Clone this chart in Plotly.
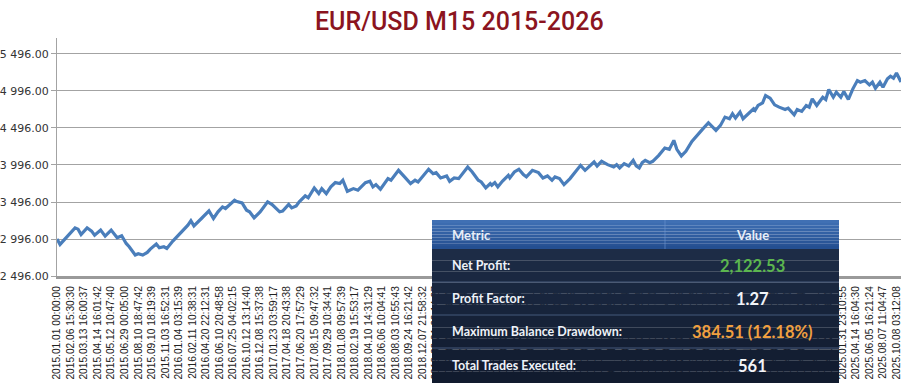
import plotly.graph_objects as go

# ---- data ----
trade_idx = [0, 2, 12, 14, 16, 20, 23, 25, 29, 32, 36, 40, 43, 46, 48, 52, 54, 57, 60, 62,
             66, 68, 71, 73, 77, 83, 87, 89, 91, 96, 101, 104, 107, 110, 112, 118, 119, 123,
             126, 128, 131, 135, 140, 143, 146, 148, 150, 154, 156, 159, 161, 165, 167, 171,
             174, 176, 179, 182, 185, 188, 190, 193, 197, 200, 205, 208, 210, 212, 215, 220,
             222, 227, 231, 235, 238, 240, 247, 250, 252, 255, 259, 261, 264, 267, 273, 276,
             280, 282, 285, 288, 289, 291, 293, 296, 300, 301, 304, 307, 310, 312, 316, 320,
             323, 326, 329, 331, 334, 337, 341, 345, 348, 351, 354, 357, 359, 362, 366, 370,
             372, 374, 377, 380, 383, 385, 387, 389, 391, 394, 396, 400, 404, 407, 410, 412,
             415, 418, 422, 427, 429, 433, 435, 438, 441, 444, 447, 449, 451, 454, 456, 459,
             463, 464, 466, 469, 471, 474, 477, 480, 484, 486, 488, 490, 492, 495, 498, 500,
             502, 505, 509, 511, 513, 516, 518, 521, 523, 526, 529, 532, 534, 537, 540, 542,
             544, 547, 549, 552, 554, 556, 558, 561]
balance = [2996, 2923, 3147, 3129, 3057, 3147, 3102, 3048, 3116, 3035, 3116, 3012, 3040, 2936,
           2891, 2779, 2797, 2779, 2815, 2860, 2927, 2878, 2891, 2869, 2968, 3093, 3183, 3242,
           3174, 3273, 3376, 3273, 3363, 3430, 3408, 3520, 3507, 3484, 3385, 3363, 3282, 3363,
           3498, 3462, 3408, 3363, 3372, 3462, 3417, 3444, 3498, 3579, 3552, 3686, 3610, 3677,
           3610, 3700, 3758, 3745, 3790, 3641, 3677, 3655, 3758, 3776, 3700, 3731, 3668, 3812,
           3790, 3924, 3835, 3745, 3790, 3767, 3938, 3879, 3893, 3821, 3848, 3776, 3821, 3812,
           3969, 3902, 3790, 3767, 3686, 3745, 3722, 3758, 3700, 3776, 3857, 3821, 3902, 3938,
           3866, 3835, 3924, 3893, 3821, 3848, 3790, 3835, 3812, 3731, 3812, 3911, 3991, 3924,
           3983, 4037, 3983, 4046, 4001, 3969, 4001, 3956, 4014, 3983, 4059, 3983, 3956, 4028,
           4059, 4028, 4046, 4127, 4225, 4207, 4329, 4207, 4118, 4180, 4315, 4441, 4477, 4567,
           4522, 4464, 4531, 4643, 4621, 4688, 4630, 4710, 4621, 4675, 4755, 4733, 4800, 4836,
           4935, 4899, 4809, 4778, 4746, 4764, 4720, 4675, 4746, 4720, 4800, 4778, 4890, 4800,
           4912, 4881, 5016, 4912, 4980, 4912, 4989, 4881, 5025, 5137, 5115, 5137, 5079, 5115,
           5034, 5115, 5047, 5160, 5196, 5169, 5240, 5118.53]

tick_trades = list(range(0, 559, 9))
tick_labels = [
    "2015.01.01 00:00:00", "2015.02.06 15:30:30", "2015.03.13 16:00:37", "2015.04.14 16:01:42",
    "2015.05.12 10:47:40", "2015.06.29 00:05:00", "2015.08.10 18:47:42", "2015.09.10 18:19:39",
    "2015.11.03 16:52:31", "2016.01.04 03:15:39", "2016.02.11 10:38:31", "2016.04.20 22:12:31",
    "2016.06.10 20:48:58", "2016.07.25 04:02:15", "2016.10.12 13:14:40", "2016.12.08 15:37:38",
    "2017.01.23 03:59:17", "2017.04.18 20:43:38", "2017.06.20 17:57:29", "2017.08.15 09:47:32",
    "2017.09.29 10:34:41", "2018.01.08 09:57:39", "2018.02.19 15:53:17", "2018.04.10 14:31:29",
    "2018.06.06 10:04:41", "2018.08.03 10:55:43", "2018.09.24 16:21:42", "2018.12.07 21:58:32",
    "2019.02.21 09:14:27", "2019.05.08 14:36:05", "2019.07.23 11:02:48", "2019.10.04 16:45:19",
    "2019.12.18 08:27:33", "2020.03.09 13:51:06", "2020.05.20 10:18:44", "2020.08.04 15:33:12",
    "2020.10.16 07:59:21", "2021.01.05 12:40:37", "2021.03.24 17:06:54", "2021.06.08 09:22:15",
    "2021.08.19 14:48:03", "2021.11.02 11:35:29", "2022.01.14 16:12:46", "2022.03.30 08:55:38",
    "2022.06.13 13:27:02", "2022.08.25 10:44:17", "2022.11.07 15:09:51", "2023.01.20 09:31:24",
    "2023.04.05 14:17:39", "2023.06.19 11:53:08", "2023.08.31 16:26:45", "2023.11.13 08:38:12",
    "2024.01.26 13:04:57", "2024.04.10 10:21:33", "2024.06.24 15:47:09", "2024.09.05 09:12:41",
    "2024.10.30 14:29:16", "2024.12.27 12:16:04", "2025.01.31 23:10:55", "2025.04.14 16:04:30",
    "2025.06.05 16:21:24", "2025.08.07 11:04:47", "2025.10.08 03:12:08",
]

y_ticks = [2496, 2996, 3496, 3996, 4496, 4996, 5496]

metrics = ["Net Profit:", "Profit Factor:", "Maximum Balance Drawdown:", "Total Trades Executed:"]
metric_values = ["2,122.53", "1.27", "384.51 (12.18%)", "561"]
value_colors = ["#5cb64f", "#f2f4f8", "#f0a040", "#f2f4f8"]

# ---- figure ----
W, H = 906, 386
L, R, T, B = 57, 5, 38, 110
pw, ph = W - L - R, H - T - B

def px_x(x):
    return (x - L) / pw

def px_y(y):
    return (H - B - y) / ph

fig = go.Figure()
fig.add_trace(go.Scatter(x=trade_idx, y=balance, mode="lines",
                         line=dict(color="#4a7ebb", width=3.2), hoverinfo="skip"))

shapes = []
annotations = []

# table geometry (pixels)
tx0, tx1, tdiv = 432, 839, 665
header_top, header_bot = 220, 249
row_edges = [249, 282, 315, 348, 383]

# header gradient
hsteps = 10
c_top = (64, 112, 180)
c_bot = (36, 79, 145)
for k in range(hsteps):
    y0 = header_top + (header_bot - header_top) * k / hsteps
    y1 = header_top + (header_bot - header_top) * (k + 1) / hsteps
    f = k / (hsteps - 1)
    c = tuple(int(c_top[j] + (c_bot[j] - c_top[j]) * f) for j in range(3))
    shapes.append(dict(type="rect", xref="paper", yref="paper", layer="above",
                       x0=px_x(tx0), x1=px_x(tx1), y0=px_y(y1), y1=px_y(y0),
                       fillcolor="rgb(%d,%d,%d)" % c, line=dict(width=0)))
# body gradient
bsteps = 12
b_top = (29, 44, 70)
b_bot = (17, 27, 46)
for k in range(bsteps):
    y0 = header_bot + (row_edges[-1] - header_bot) * k / bsteps
    y1 = header_bot + (row_edges[-1] - header_bot) * (k + 1) / bsteps
    f = k / (bsteps - 1)
    c = tuple(int(b_top[j] + (b_bot[j] - b_top[j]) * f) for j in range(3))
    shapes.append(dict(type="rect", xref="paper", yref="paper", layer="above",
                       x0=px_x(tx0), x1=px_x(tx1), y0=px_y(y1), y1=px_y(y0),
                       fillcolor="rgb(%d,%d,%d)" % c, line=dict(width=0)))
# header column divider
shapes.append(dict(type="line", xref="paper", yref="paper", layer="above",
                   x0=px_x(tdiv), x1=px_x(tdiv), y0=px_y(header_bot), y1=px_y(header_top),
                   line=dict(color="rgba(110,150,210,0.6)", width=1)))
# row separators
for ye in row_edges[1:-1]:
    shapes.append(dict(type="line", xref="paper", yref="paper", layer="above",
                       x0=px_x(tx0), x1=px_x(tx1), y0=px_y(ye), y1=px_y(ye),
                       line=dict(color="#45587a", width=1)))

# header texts
hy = (header_top + header_bot) / 2
annotations.append(dict(x=px_x(450), y=px_y(hy), xref="paper", yref="paper", text="<b>Metric</b>",
                        showarrow=False, xanchor="left", yanchor="middle",
                        font=dict(family="Lato", size=13, color="#e8eef8")))
annotations.append(dict(x=px_x((tdiv + tx1) / 2), y=px_y(hy), xref="paper", yref="paper",
                        text="<b>Value</b>", showarrow=False, xanchor="center", yanchor="middle",
                        font=dict(family="Lato", size=13, color="#e8eef8")))
for r, (m, v, vc) in enumerate(zip(metrics, metric_values, value_colors)):
    cy = (row_edges[r] + row_edges[r + 1]) / 2
    annotations.append(dict(x=px_x(450), y=px_y(cy), xref="paper", yref="paper",
                            text="<b>%s</b>" % m, showarrow=False, xanchor="left", yanchor="middle",
                            font=dict(family="Lato", size=12.5, color="#eef2f8")))
    annotations.append(dict(x=px_x((tdiv + tx1) / 2), y=px_y(cy), xref="paper", yref="paper",
                            text="<b>%s</b>" % v, showarrow=False, xanchor="center", yanchor="middle",
                            font=dict(family="Lato", size=16.5, color=vc)))

fig.update_layout(
    width=W, height=H,
    margin=dict(l=L, r=R, t=T, b=B, autoexpand=False),
    paper_bgcolor="white", plot_bgcolor="white",
    separators=". ",
    showlegend=False,
    title=dict(text="EUR/USD M15 2015-2026", x=0.507, xref="container", xanchor="center",
               y=0.945, yref="container", yanchor="middle",
               font=dict(family="Roboto", size=25, weight=500, color="#8b1420")),
    shapes=shapes,
    annotations=annotations,
)
fig.update_xaxes(
    range=[0, 561], tickmode="array", tickvals=tick_trades, ticktext=tick_labels,
    tickangle=-90, tickfont=dict(family="Liberation Sans", size=10.2, color="#222"),
    showgrid=False, zeroline=False, showline=True, linecolor="#9a9a9a", linewidth=3,
    ticks="", ticklabelstandoff=3, automargin=False,
)
fig.update_yaxes(
    range=[2496, 5712], tickmode="array", tickvals=y_ticks, tickformat=",.2f",
    tickfont=dict(family="DejaVu Sans", size=11, color="#333"),
    showgrid=True, gridcolor="#a3a3a3", gridwidth=1.3, zeroline=False,
    showline=True, linecolor="#a3a3a3", linewidth=1.3,
    ticks="outside", ticklen=5, tickcolor="#a3a3a3", tickwidth=1.3, automargin=False,
)

fig.write_html("out.html", config={"displayModeBar": False},
               post_script="document.body.style.margin='0px';document.body.style.overflow='hidden';")
